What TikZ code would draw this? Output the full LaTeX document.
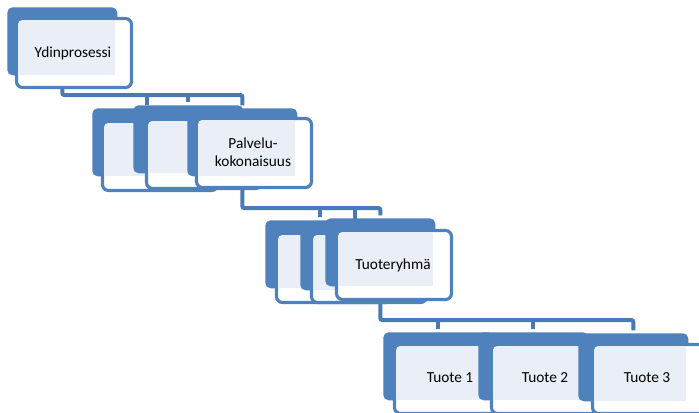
\documentclass[tikz,border=0pt]{standalone}
\usepackage{fontspec}
\setmainfont{Carlito}
\usetikzlibrary{backgrounds}
\pgfdeclarelayer{bgzero}
\pgfsetlayers{bgzero,background,main}
\definecolor{sablue}{HTML}{4F81BD}
\definecolor{salight}{HTML}{EAEFF7}
\definecolor{saline}{HTML}{4A7AB6}
\tikzset{
  backbox/.style={fill=sablue, rounded corners=4pt, inner sep=0pt, minimum width=82.5pt, minimum height=51pt, anchor=north west},
  frontbox/.style={draw=sablue, line width=2.3pt, fill=white, rounded corners=4.5pt},
  lightbox/.style={fill=salight},
  lbl/.style={font=\fontsize{11.5}{13.5}\selectfont, text=black, align=center, inner sep=0pt},
  conn/.style={draw=saline, line width=3pt, rounded corners=1.5pt, shorten >=2pt},
}
% name, back x, back y, front x, front y
\newcommand\hnode[5]{%
  \node[backbox] (#1) at (#2,#3) {};
  \draw[frontbox] (#4+1.5,#5+1.5) rectangle (#4+116.5,#5+70.5);
  \fill[lightbox] (#4+3.5,#5+4) rectangle (#2+108,#3+68);
}
\begin{document}
\begin{tikzpicture}[x=0.75pt,y=-0.75pt]
\useasboundingbox (0,0) rectangle (699,412);
\begin{pgfonlayer}{bgzero}
  \fill[white] (0,0) rectangle (699,412);
\end{pgfonlayer}
\clip (0,0) rectangle (699,412);

% level 1
\hnode{A}{7}{7}{15}{17}
\node[lbl] (At) at (73,53) {Ydinprosessi};

% level 2
\hnode{B1}{92}{108}{101}{120}
\hnode{B2}{133}{105}{145}{118}
\hnode{B3}{187}{108}{195}{117}
\node[lbl] (B3t) at (253,152) {Palvelu-\\kokonaisuus};

% level 3
\hnode{C1}{265}{220}{275}{232}
\hnode{C2}{300}{222}{310}{232}
\hnode{C3}{325}{218}{335}{229}
\node[lbl] (C3t) at (393,265) {Tuoteryhmä};

% level 4
\hnode{D1}{383}{332}{393}{343}
\hnode{D2}{478}{332}{490}{343}
\hnode{D3}{578}{333}{591}{343}
\node[lbl] (D1t) at (450,378) {Tuote 1};
\node[lbl] (D2t) at (545,378) {Tuote 2};
\node[lbl] (D3t) at (647,378) {Tuote 3};

% connectors
\coordinate (bar1) at (0,95);
\coordinate (bar2) at (0,208);
\coordinate (bar3) at (0,320);
\begin{pgfonlayer}{background}
  \draw[conn] (A.south) |- (B3.north |- bar1) -- (B3.north);
  \draw[conn] (B1.north |- bar1) -- (B1.north);
  \draw[conn] (B2.north |- bar1) -- (B2.north);
  \draw[conn] (B3.south) |- (C3.north |- bar2) -- (C3.north);
  \draw[conn] (C1.north |- bar2) -- (C1.north);
  \draw[conn] (C2.north |- bar2) -- (C2.north);
  \draw[conn] (C3.south) |- (D3.north |- bar3) -- (D3.north);
  \draw[conn] (D1.north |- bar3) -- (D1.north);
  \draw[conn] (D2.north |- bar3) -- (D2.north);
\end{pgfonlayer}
\end{tikzpicture}
\end{document}
